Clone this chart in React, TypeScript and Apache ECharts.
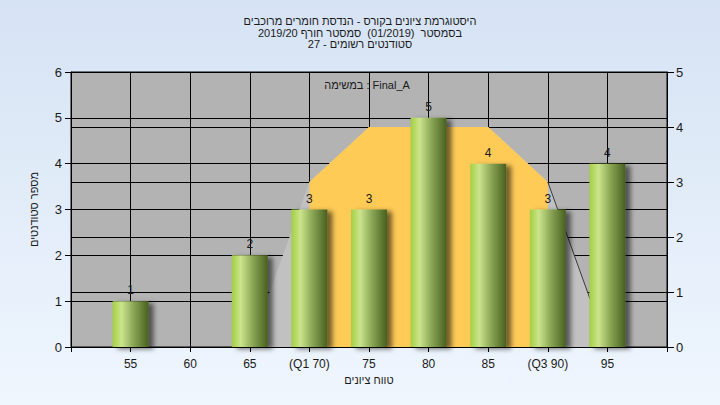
import React, { useEffect, useRef } from "react";
import * as echarts from "echarts";

const titleLines = [
  "היסטוגרמת ציונים בקורס - הנדסת חומרים מרוכבים",
  "בסמסטר  (01/2019)  סמסטר חורף 2019/20",
  "סטודנטים רשומים - 27",
];
const legendText = "במשימה : Final_A";
const xAxisName = "טווח ציונים";
const yAxisName = "מספר סטודנטים";

const categories = [55, 60, 65, 70, 75, 80, 85, 90, 95];
const tickLabels = ["55", "60", "65", "(Q1 70)", "75", "80", "85", "(Q3 90)", "95"];
const studentCounts = [1, 0, 2, 3, 3, 5, 4, 3, 4];

const curveX = [65, 70, 75, 80, 85, 90, 95];
const curveY = [0, 3, 4, 4, 4, 3, 0];
const q1 = 70;
const q3 = 90;

const FONT = 'Arial, "Liberation Sans", "DejaVu Sans", sans-serif';
const TEXT = "#1a1a1a";

export default function App() {
  const ref = useRef<HTMLDivElement>(null);
  useEffect(() => {
    if (!ref.current) return;
    const chart = echarts.init(ref.current, undefined, { renderer: "svg" });
    const curve = curveX.map((x, i) => [x, curveY[i]]);
    const inner = curve.filter((p) => p[0] >= q1 && p[0] <= q3);
    const tail = curve.filter((p) => p[0] >= q3);
    const barData = categories.map((c, i) => [c, studentCounts[i]]);
    chart.setOption({
      animation: false,
      backgroundColor: {
        type: "linear",
        x: 0,
        y: 0,
        x2: 0,
        y2: 1,
        colorStops: [
          { offset: 0, color: "#d6e3f4" },
          { offset: 1, color: "#eff6fe" },
        ],
      },
      textStyle: { fontFamily: FONT },
      title: {
        text: titleLines.join("\n"),
        left: "center",
        top: 10,
        textStyle: {
          fontSize: 11,
          fontWeight: "normal",
          color: TEXT,
          lineHeight: 11.7,
          fontFamily: FONT,
        },
      },
      graphic: [
        {
          type: "text",
          x: 367,
          y: 85,
          style: {
            text: legendText,
            fontSize: 11,
            fontFamily: FONT,
            fill: TEXT,
            textAlign: "center",
            textVerticalAlign: "middle",
          },
          z: 100,
        },
      ],
      grid: {
        left: 71,
        right: 53,
        top: 72,
        bottom: 58,
        show: true,
        backgroundColor: "#b3b3b3",
        borderColor: "#000",
        borderWidth: 1,
      },
      xAxis: {
        type: "value",
        min: 50,
        max: 100,
        interval: 5,
        name: xAxisName,
        nameLocation: "middle",
        nameGap: 27,
        nameTextStyle: { fontSize: 11, color: TEXT, fontFamily: FONT },
        axisLine: { show: true, lineStyle: { color: "#000", width: 1 } },
        axisTick: { show: true, length: 5, lineStyle: { color: "#000" } },
        axisLabel: {
          fontSize: 12,
          color: TEXT,
          margin: 11,
          fontFamily: FONT,
          formatter: (v: number) => {
            const i = categories.indexOf(v);
            return i >= 0 ? tickLabels[i] : "";
          },
        },
        splitLine: { show: true, lineStyle: { color: "#000", width: 1 } },
      },
      yAxis: [
        {
          type: "value",
          min: 0,
          max: 6,
          interval: 1,
          position: "left",
          name: yAxisName,
          nameLocation: "middle",
          nameGap: 32,
          nameRotate: 90,
          nameTextStyle: { fontSize: 11, color: TEXT, fontFamily: FONT },
          axisLine: { show: true, lineStyle: { color: "#000", width: 1 } },
          axisTick: { show: true, length: 6, lineStyle: { color: "#000" } },
          axisLabel: { fontSize: 13, color: TEXT, margin: 9, fontFamily: FONT },
          splitLine: { show: true, lineStyle: { color: "#000", width: 1 } },
        },
        {
          type: "value",
          min: 0,
          max: 5,
          interval: 1,
          position: "right",
          axisLine: { show: true, lineStyle: { color: "#000", width: 1 } },
          axisTick: { show: true, length: 7, lineStyle: { color: "#000" } },
          axisLabel: { fontSize: 13, color: TEXT, margin: 9, fontFamily: FONT },
          splitLine: { show: true, lineStyle: { color: "#000", width: 1 } },
        },
      ],
      series: [
        {
          type: "line",
          yAxisIndex: 1,
          z: 1,
          data: curve,
          symbol: "none",
          lineStyle: { width: 0 },
          areaStyle: { color: "#c1c1c1", opacity: 1 },
          silent: true,
        },
        {
          type: "line",
          yAxisIndex: 1,
          z: 1,
          data: inner,
          symbol: "none",
          lineStyle: { width: 0 },
          areaStyle: { color: "#fecb57", opacity: 1 },
          silent: true,
        },
        {
          type: "line",
          yAxisIndex: 1,
          z: 1,
          data: tail,
          symbol: "none",
          lineStyle: { width: 1, color: "#3a3a3a" },
          silent: true,
        },
        {
          type: "bar",
          z: 5,
          data: barData,
          barWidth: 36,
          itemStyle: {
            color: {
              type: "linear",
              x: 0,
              y: 0,
              x2: 1,
              y2: 0,
              colorStops: [
                { offset: 0, color: "#a3cf43" },
                { offset: 0.25, color: "#cbe48c" },
                { offset: 0.6, color: "#87a352" },
                { offset: 1, color: "#486020" },
              ],
            },
            shadowColor: "rgba(0,0,0,0.55)",
            shadowBlur: 5,
            shadowOffsetX: 5,
            shadowOffsetY: 2,
          },
          label: {
            show: true,
            position: "top",
            distance: 5,
            fontSize: 12,
            color: TEXT,
            fontFamily: FONT,
            formatter: (p: any) => (p.value[1] ? String(p.value[1]) : ""),
          },
        },
      ],
    });
    return () => chart.dispose();
  }, []);
  return (
    <div
      ref={ref}
      style={{ position: "absolute", left: 0, top: 0, width: 720, height: 405 }}
    />
  );
}
